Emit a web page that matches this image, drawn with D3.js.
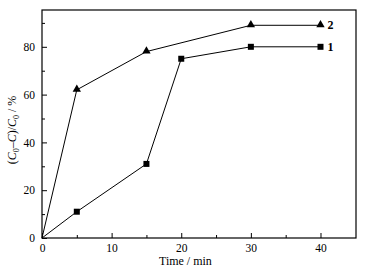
<!doctype html>
<html lang="en">
<head>
  <meta charset="UTF-8">
  <script src="https://cdn.jsdelivr.net/npm/d3@7"></script>
  <style>
    body{margin:0;background:#fff;}
    svg, svg text{font-family:'Liberation Serif', 'Times New Roman', serif !important;}
  </style>
</head>
<body>
  <div class="chart"></div>
  <script>
    const times1 = [0, 5, 15, 20, 30, 40];
    const values1 = [0, 11, 31, 75, 80, 80];
    const times2 = [0, 5, 15, 30, 40];
    const values2 = [0, 62, 78, 89, 89];
    const xTicks = [0, 10, 20, 30, 40];
    const yTicks = [0, 20, 40, 60, 80];

    const bxSize = {w:365, h:271};
    const margin = {top:10, right:9, bottom:33, left:42};
    const [width, height] = [bxSize.w - margin.left - margin.right, bxSize.h - margin.top - margin.bottom];
    const svg = d3.select('.chart').append('svg')
      .attr('width', bxSize.w).attr('height', bxSize.h)
      .append('g')
      .attr('transform', `translate(${margin.left} ${margin.top})`);

    const x = d3.scaleLinear().domain([0, 45.1]).range([0, width]);
    const y = d3.scaleLinear().domain([0, 95.4]).range([height, 0]);

    // frame
    svg.append('rect').attr('width', width).attr('height', height)
      .attr('fill', 'none').attr('stroke', '#000').attr('stroke-width', 1.2);

    // major + minor ticks, pointing inward
    const xAxis = d3.axisBottom(x).tickValues(xTicks).tickSize(-5).tickPadding(6).tickFormat(d3.format('d'));
    const xMinor = d3.axisBottom(x).tickValues([5, 15, 25, 35]).tickSize(-3).tickFormat('');
    const yAxis = d3.axisLeft(y).tickValues(yTicks).tickSize(-5).tickPadding(7).tickFormat(d3.format('d'));
    const yMinor = d3.axisLeft(y).tickValues([10, 30, 50, 70, 90]).tickSize(-3).tickFormat('');

    svg.append('g').attr('transform', `translate(0 ${height})`).call(xAxis);
    svg.append('g').attr('transform', `translate(0 ${height})`).call(xMinor);
    svg.append('g').call(yAxis);
    svg.append('g').call(yMinor);
    svg.selectAll('.domain').remove();
    svg.selectAll('g').attr('font-family', null);
    svg.selectAll('.tick line').attr('stroke', '#000').attr('stroke-width', 1);
    svg.selectAll('.tick text').attr('font-size', 11.5).attr('fill', '#000');

    const line = d3.line().x(d => x(d[0])).y(d => y(d[1]));
    const s1 = times1.map((t, i) => [t, values1[i]]);
    const s2 = times2.map((t, i) => [t, values2[i]]);

    svg.append('path').attr('d', line(s1)).attr('fill', 'none').attr('stroke', '#000').attr('stroke-width', 1);
    svg.append('path').attr('d', line(s2)).attr('fill', 'none').attr('stroke', '#000').attr('stroke-width', 1);

    svg.selectAll('rect.m1').data(s1.slice(1)).enter().append('rect').classed('m1', true)
      .attr('x', d => x(d[0]) - 3).attr('y', d => y(d[1]) - 3)
      .attr('width', 6).attr('height', 6).attr('fill', '#000');
    const tri = d3.symbol().type(d3.symbolTriangle).size(30);
    svg.selectAll('path.m2').data(s2.slice(1)).enter().append('path').classed('m2', true)
      .attr('d', tri).attr('transform', d => `translate(${x(d[0])} ${y(d[1]) - 0.5})`).attr('fill', '#000');

    // series labels
    svg.append('text').attr('x', x(40) + 7).attr('y', y(values2[values2.length - 1]) + 4)
      .attr('font-size', 12).attr('font-weight', 'bold').text('2');
    svg.append('text').attr('x', x(40) + 7).attr('y', y(values1[values1.length - 1]) + 4)
      .attr('font-size', 12).attr('font-weight', 'bold').text('1');

    // axis titles
    svg.append('text').attr('x', x(20.6)).attr('y', height + 27).attr('text-anchor', 'middle')
      .attr('font-size', 12).text('Time / min');
    const yl = svg.append('text').attr('transform', `translate(${-26} ${height / 2 + 6}) rotate(-90)`)
      .attr('text-anchor', 'middle').attr('font-size', 12);
    yl.append('tspan').text('(');
    yl.append('tspan').attr('font-style', 'italic').text('C');
    yl.append('tspan').attr('font-size', 8).attr('dy', 3).text('0');
    yl.append('tspan').attr('dy', -3).text('\u2013');
    yl.append('tspan').attr('font-style', 'italic').text('C');
    yl.append('tspan').text(')/');
    yl.append('tspan').attr('font-style', 'italic').text('C');
    yl.append('tspan').attr('font-size', 8).attr('dy', 3).text('0');
    yl.append('tspan').attr('dy', -3).text(' / %');
  </script>
</body>
</html>
